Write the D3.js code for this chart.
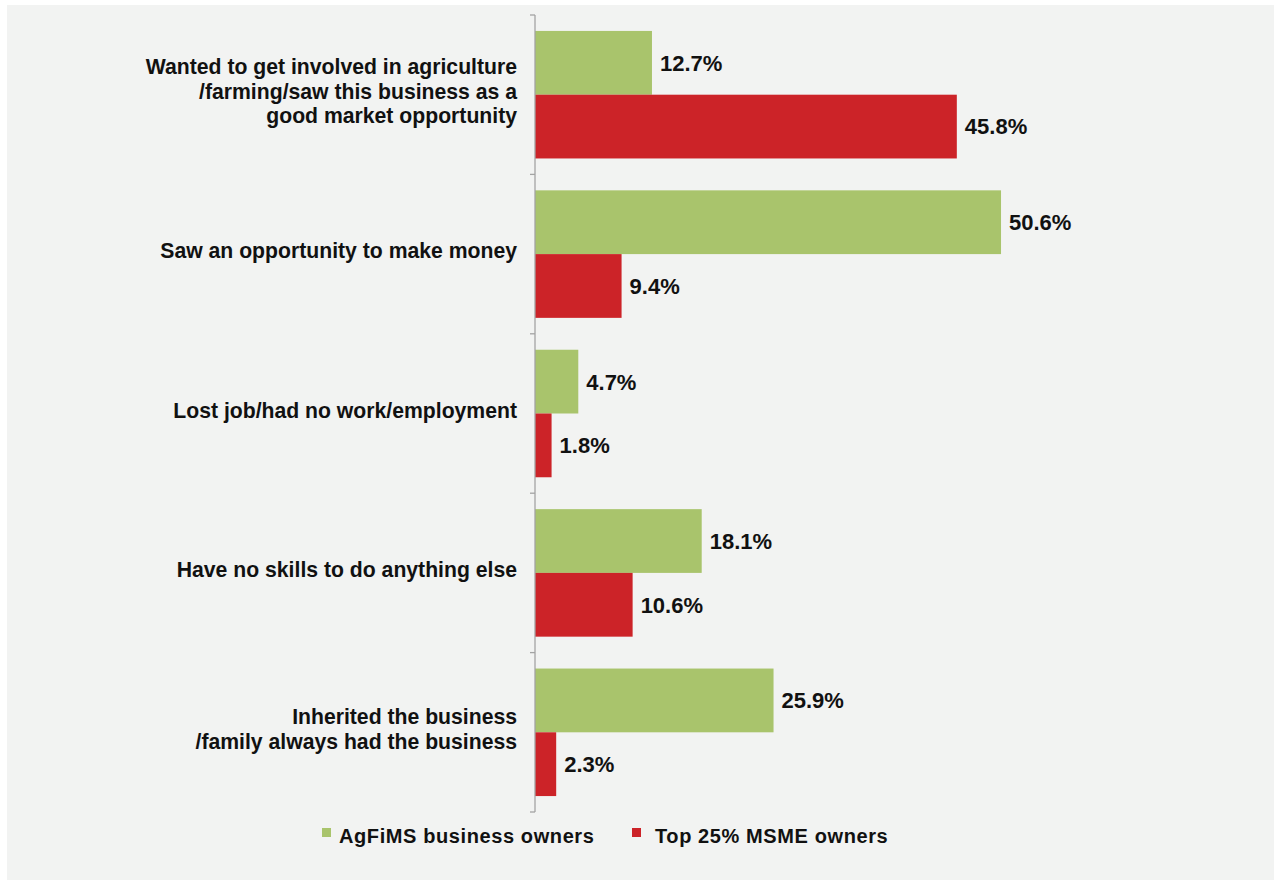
<!DOCTYPE html>
<html>
<head>
<meta charset="utf-8">
<script src="https://cdn.jsdelivr.net/npm/d3@7"></script>
<style>
  html, body { margin: 0; padding: 0; background: #ffffff; }
  svg { display: block; font-family: "Liberation Sans", Arial, Helvetica, sans-serif; }
</style>
</head>
<body>
<svg id="chart" width="1274" height="880"></svg>
<script>
// Reasons for starting the business, by owner group (percent)
const categories = [
  ["Wanted to get involved in agriculture", "/farming/saw this business as a", "good market opportunity"],
  ["Saw an opportunity to make money"],
  ["Lost job/had no work/employment"],
  ["Have no skills to do anything else"],
  ["Inherited the business", "/family always had the business"]
];
const categoryKeys = categories.map(d => d.join(" "));
const seriesNames = ["AgFiMS business owners", "Top 25% MSME owners"];
const agfimsValues = [12.7, 50.6, 4.7, 18.1, 25.9];
const msmeValues = [45.8, 9.4, 1.8, 10.6, 2.3];
const seriesColors = ["#a9c46c", "#cc2328"];

const svg = d3.select("#chart");

// panel background
svg.append("rect")
  .attr("x", 7).attr("y", 5)
  .attr("width", 1267).attr("height", 875)
  .attr("fill", "#f2f3f2");

const x = d3.scaleLinear().domain([0, 60]).range([535, 535 + 60 * 9.21]);
const y = d3.scaleBand().domain(categoryKeys).range([15, 812])
  .paddingInner(0.2).paddingOuter(0.1);
const ySub = d3.scaleBand().domain([0, 1]).range([0, y.bandwidth()]);

const rows = categoryKeys.map((k, i) => ({
  key: k,
  lines: categories[i],
  values: [agfimsValues[i], msmeValues[i]]
}));

// bars
const groups = svg.selectAll("g.cat").data(rows).join("g")
  .attr("class", "cat")
  .attr("transform", d => `translate(0,${y(d.key)})`);

groups.selectAll("rect").data(d => d.values).join("rect")
  .attr("x", x(0))
  .attr("y", (v, j) => ySub(j))
  .attr("width", v => x(v) - x(0))
  .attr("height", ySub.bandwidth())
  .attr("fill", (v, j) => seriesColors[j]);

// value labels
groups.selectAll("text.val").data(d => d.values).join("text")
  .attr("class", "val")
  .attr("x", v => x(v) + 8)
  .attr("y", (v, j) => ySub(j) + ySub.bandwidth() / 2)
  .attr("dy", "0.36em")
  .attr("font-size", 22)
  .attr("font-weight", "bold")
  .attr("fill", "#111")
  .text(v => v.toFixed(1) + "%");

// category labels
const lineH = 24.5;
groups.append("text")
  .attr("class", "cat-label")
  .attr("text-anchor", "end")
  .attr("font-size", 21.2)
  .attr("font-weight", "bold")
  .attr("fill", "#111")
  .each(function(d) {
    const t = d3.select(this);
    const n = d.lines.length;
    d.lines.forEach((line, i) => {
      t.append("tspan")
        .attr("x", 517)
        .attr("y", y.bandwidth() / 2 + (i - (n - 1) / 2) * lineH)
        .attr("dy", "0.2em")
        .text(line);
    });
  });

// vertical axis with ticks at category boundaries
const axisColor = "#a3a3a3";
const step = y.step();
const boundaries = categoryKeys.map(k => y(k) - y.paddingInner() * step / 2);
boundaries[0] = y.range()[0];
boundaries.push(y.range()[1]);

const axisG = svg.append("g").attr("class", "y-axis");
axisG.append("line")
  .attr("x1", x(0)).attr("x2", x(0))
  .attr("y1", y.range()[0]).attr("y2", y.range()[1])
  .attr("stroke", axisColor).attr("stroke-width", 1.3);
axisG.selectAll("line.tick").data(boundaries).join("line")
  .attr("class", "tick")
  .attr("x1", x(0) - 5).attr("x2", x(0))
  .attr("y1", d => d).attr("y2", d => d)
  .attr("stroke", axisColor).attr("stroke-width", 1.3);

// legend
const legendSwatchX = [322, 632];
const legendTextX = [339, 655];
const legend = svg.append("g").attr("class", "legend");
seriesNames.forEach((name, i) => {
  legend.append("rect")
    .attr("x", legendSwatchX[i]).attr("y", 828)
    .attr("width", 9).attr("height", 9)
    .attr("fill", seriesColors[i]);
  legend.append("text")
    .attr("x", legendTextX[i])
    .attr("y", 843)
    .attr("font-size", 20)
    .attr("letter-spacing", 0.6)
    .attr("font-weight", "bold")
    .attr("fill", "#111")
    .text(name);
});
</script>
</body>
</html>
